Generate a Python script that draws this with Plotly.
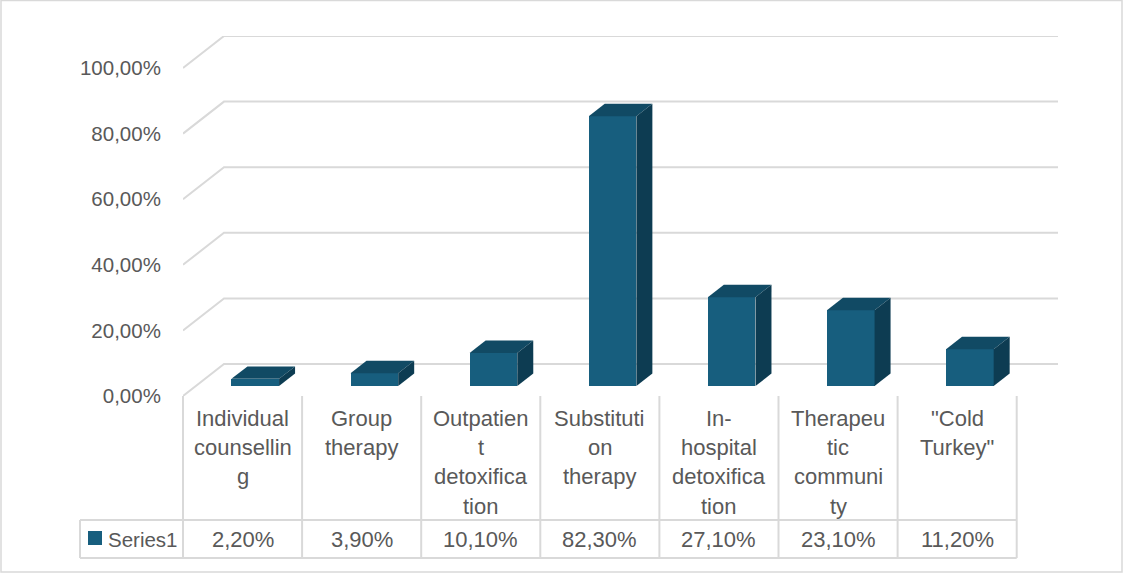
import plotly.graph_objects as go

# ---------------- data ----------------
categories = ["Individual counselling", "Group therapy", "Outpatient detoxification",
              "Substitution therapy", "In-hospital detoxification",
              "Therapeutic community", "\"Cold Turkey\""]
tick_labels = [["Individual", "counsellin", "g"],
               ["Group", "therapy"],
               ["Outpatien", "t", "detoxifica", "tion"],
               ["Substituti", "on", "therapy"],
               ["In-", "hospital", "detoxifica", "tion"],
               ["Therapeu", "tic", "communi", "ty"],
               ["\"Cold", "Turkey\""]]
values = [2.2, 3.9, 10.1, 82.3, 27.1, 23.1, 11.2]
value_labels = ["2,20%", "3,90%", "10,10%", "82,30%", "27,10%", "23,10%", "11,20%"]
series_name = "Series1"
y_ticks = [0, 20, 40, 60, 80, 100]
y_tick_labels = ["0,00%", "20,00%", "40,00%", "60,00%", "80,00%", "100,00%"]

# ---------------- style / geometry ----------------
W, H = 1123, 573
L, R, T, B = 183, 1058, 36, 396          # plot area in pixels
COL_PX = 119.1                            # category width in px
n = len(categories)
xr0 = -0.5
xr1 = xr0 + (R - L) / COL_PX
DX = 41 / COL_PX                          # depth shift (x units)
DY = 32 * 100 / ((B - T) - 32)            # depth shift (y units)
D0, D1 = 0.31, 0.70                       # bar depth fraction
BW = 0.40                                 # bar width (x units)

FRONT = "#175E7E"
TOP = "#114A64"
SIDE = "#0D3C52"
GRID = "#d9d9d9"
TXT = "#595959"
FONT = "Liberation Sans"
FS_AX = 20.5
FS_TB = 22


def px_x(p):
    return (p - L) / (R - L)


def px_y(p):
    return (B - p) / (B - T)


def dx_paper(x):
    return (x - xr0) / (xr1 - xr0)


fig = go.Figure()
shapes = []
annotations = []

# back wall / side wall gridlines (below the bars)
for v in y_ticks:
    shapes.append(dict(type="path", xref="x", yref="y", layer="below",
                       path=f"M{xr0},{v} L{xr0 + DX},{v + DY} L{xr1},{v + DY}",
                       line=dict(color=GRID, width=2)))

# bars: front face
xs = [i for i in range(n)]
base = D0 * DY
fig.add_trace(go.Bar(x=[i + D0 * DX for i in xs], y=values, base=[base] * n, width=BW,
                     marker=dict(color=FRONT, line=dict(width=0)), name=series_name,
                     showlegend=False, hovertext=categories))

# top and side faces
ddx = (D1 - D0) * DX
ddy = (D1 - D0) * DY
for i, v in zip(xs, values):
    xl = i - BW / 2 + D0 * DX
    xr = i + BW / 2 + D0 * DX
    h = v + base
    fig.add_trace(go.Scatter(x=[xl, xr, xr + ddx, xl + ddx, xl], y=[h, h, h + ddy, h + ddy, h],
                             fill="toself", fillcolor=TOP, mode="lines", line=dict(width=0, color=TOP),
                             hoverinfo="skip", showlegend=False))
    fig.add_trace(go.Scatter(x=[xr, xr + ddx, xr + ddx, xr, xr], y=[base, base + ddy, h + ddy, h, base],
                             fill="toself", fillcolor=SIDE, mode="lines", line=dict(width=0, color=SIDE),
                             hoverinfo="skip", showlegend=False))

# data table grid
y_row_top = px_y(520)
y_bottom = px_y(558)
for k in range(n + 1):
    xp = dx_paper(k - 0.5)
    shapes.append(dict(type="line", xref="paper", yref="paper", x0=xp, x1=xp, y0=0, y1=y_bottom,
                       line=dict(color=GRID, width=2)))
x_left = px_x(80)
x_right = dx_paper(n - 0.5)
shapes.append(dict(type="line", xref="paper", yref="paper", x0=x_left, x1=x_left, y0=y_row_top, y1=y_bottom,
                   line=dict(color=GRID, width=2)))
for yy in (y_row_top, y_bottom):
    shapes.append(dict(type="line", xref="paper", yref="paper", x0=x_left, x1=x_right, y0=yy, y1=yy,
                       line=dict(color=GRID, width=2)))

# legend key
shapes.append(dict(type="rect", xref="paper", yref="paper", x0=px_x(88), x1=px_x(102),
                   y0=px_y(531), y1=px_y(545), fillcolor=FRONT, line=dict(width=0)))
annotations.append(dict(text=series_name, xref="paper", yref="paper", x=px_x(106), y=px_y(539),
                        xanchor="left", yanchor="middle", showarrow=False,
                        font=dict(family=FONT, size=FS_AX, color=TXT)))

# outer border
shapes.append(dict(type="rect", xref="paper", yref="paper", x0=px_x(1), x1=px_x(1122),
                   y0=px_y(572), y1=px_y(0.5), line=dict(color=GRID, width=1.5)))

# category labels and values
LINE_PX = 29.4
for i, lines in enumerate(tick_labels):
    xp = dx_paper(i)
    for j, t in enumerate(lines):
        annotations.append(dict(text=t, xref="paper", yref="paper", x=xp, y=px_y(418 + j * LINE_PX),
                                xanchor="center", yanchor="middle", showarrow=False,
                                font=dict(family=FONT, size=FS_TB, color=TXT)))
    annotations.append(dict(text=value_labels[i], xref="paper", yref="paper", x=xp, y=px_y(539),
                            xanchor="center", yanchor="middle", showarrow=False,
                            font=dict(family=FONT, size=FS_TB, color=TXT)))

fig.update_layout(
    width=W, height=H,
    margin=dict(l=L, r=W - R, t=T, b=H - B, pad=0),
    paper_bgcolor="white", plot_bgcolor="white",
    showlegend=False,
    shapes=shapes, annotations=annotations,
    xaxis=dict(range=[xr0, xr1], showgrid=False, zeroline=False, showticklabels=False,
               showline=False, ticks="", fixedrange=True),
    yaxis=dict(range=[0, 100 + DY], showgrid=False, zeroline=False, showline=False,
               tickvals=y_ticks, ticktext=y_tick_labels, ticks="outside", ticklen=17,
               tickcolor="rgba(0,0,0,0)", tickfont=dict(family=FONT, size=FS_AX, color=TXT),
               fixedrange=True),
    bargap=0,
)

fig.write_html("out.html")
